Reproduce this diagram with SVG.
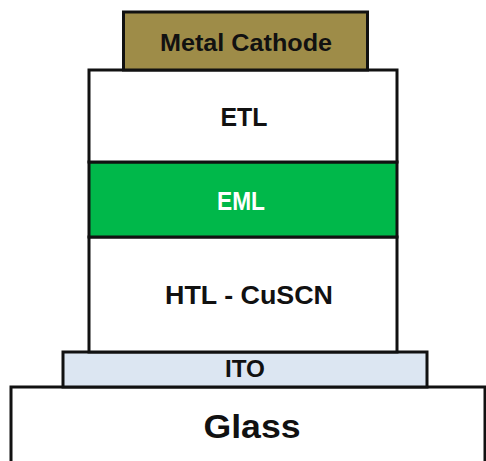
<svg xmlns="http://www.w3.org/2000/svg" width="486" height="461" viewBox="0 0 486 461">
<style>
  .layer { stroke: #111; stroke-width: 3; }
  text { font-family: "Liberation Sans", Arial, sans-serif; font-weight: bold; text-anchor: middle; fill: #111; }
</style>
<rect x="0" y="0" width="486" height="461" fill="#fff"/>
<g id="glass">
  <rect class="layer" x="11" y="387" width="474" height="90" fill="#fff"/>
  <text x="252" y="438" font-size="33" textLength="97" lengthAdjust="spacingAndGlyphs">Glass</text>
</g>
<g id="ito">
  <rect class="layer" x="63" y="352" width="364" height="35" fill="#DCE6F2"/>
  <text x="245" y="377" font-size="23" textLength="40" lengthAdjust="spacingAndGlyphs">ITO</text>
</g>
<g id="htl">
  <rect class="layer" x="89" y="237" width="308" height="115" fill="#fff"/>
  <text x="249" y="304" font-size="25" textLength="168" lengthAdjust="spacingAndGlyphs">HTL - CuSCN</text>
</g>
<g id="eml">
  <rect class="layer" x="89" y="162" width="308" height="75" fill="#00B84A"/>
  <text x="241" y="210" font-size="25" style="fill:#fff" textLength="48" lengthAdjust="spacingAndGlyphs">EML</text>
</g>
<g id="etl">
  <rect class="layer" x="89" y="70" width="308" height="92" fill="#fff"/>
  <text x="244" y="126" font-size="25" textLength="47" lengthAdjust="spacingAndGlyphs">ETL</text>
</g>
<g id="cathode">
  <rect class="layer" x="123.5" y="12" width="244" height="58" fill="#9E8C48"/>
  <text x="246" y="51" font-size="24" textLength="172" lengthAdjust="spacingAndGlyphs">Metal Cathode</text>
</g>
<g id="connectors"></g>
</svg>
